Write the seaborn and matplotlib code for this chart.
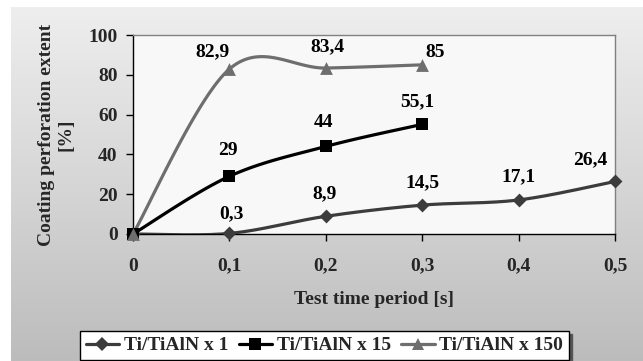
import numpy as np
import pandas as pd
import matplotlib
matplotlib.use("Agg")
import matplotlib.pyplot as plt
from matplotlib.colors import LinearSegmentedColormap
from matplotlib.lines import Line2D
import seaborn as sns

# ---- data -------------------------------------------------------------
time_s = [0, 0.1, 0.2, 0.3, 0.4, 0.5]
perf_x1 = [0, 0.3, 8.9, 14.5, 17.1, 26.4]
perf_x15 = [0, 29, 44, 55.1]
perf_x150 = [0, 82.9, 83.4, 85]
series_names = ["Ti/TiAlN x 1", "Ti/TiAlN x 15", "Ti/TiAlN x 150"]
x_tick_values = [0, 0.1, 0.2, 0.3, 0.4, 0.5]
x_tick_labels = ["0", "0,1", "0,2", "0,3", "0,4", "0,5"]
y_tick_values = [0, 20, 40, 60, 80, 100]

# ---- styling ----------------------------------------------------------
sns.set_theme(style="white")
plt.rcParams["font.family"] = ["Liberation Serif", "DejaVu Serif"]
plt.rcParams["font.weight"] = "bold"
FS = 14

line_colors = ["#3c3c3c", "#000000", "#6e6e6e"]
markers = ["D", "s", "^"]
marker_sizes = [50, 70, 85]
# value-label offsets in pixels (dx, dy) relative to each point
label_offsets = [
    [None, (2, 20), (-1, 23), (0, 22), (0, 23), (-25, 22)],
    [None, (-1, 26), (-2, 24), (-5, 23)],
    [None, (-17, 17), (2, 21), (13, 12)],
]


def smooth_curve(xs, ys, n=40):
    """Piecewise cubic Bezier through the points (Catmull-Rom style tangents)."""
    pts = np.column_stack([xs, ys]).astype(float)
    out = []
    t = np.linspace(0, 1, n)[:, None]
    for i in range(len(pts) - 1):
        p0 = pts[i - 1] if i > 0 else pts[i]
        p1, p2 = pts[i], pts[i + 1]
        p3 = pts[i + 2] if i + 2 < len(pts) else pts[i + 1]
        c1 = p1 + (p2 - p0) / 6
        c2 = p2 - (p3 - p1) / 6
        seg = ((1 - t) ** 3) * p1 + 3 * ((1 - t) ** 2) * t * c1 \
            + 3 * (1 - t) * t ** 2 * c2 + t ** 3 * p2
        out.append(seg if i == 0 else seg[1:])
    return np.vstack(out)


W, H = 643, 361
fig = plt.figure(figsize=(W / 100, H / 100), dpi=100)
fig.patch.set_facecolor("white")

# gradient chart-area background
bg = fig.add_axes([11 / W, 0, (W - 11) / W, (H - 7) / H], zorder=-10)
grad_cmap = LinearSegmentedColormap.from_list("bg", ["#eeeeee", "#d6d6d6", "#bcbcbc"])
bg.imshow(np.linspace(0, 1, 256)[:, None], aspect="auto", cmap=grad_cmap,
          extent=[0, 1, 0, 1])
bg.set_axis_off()

ax = fig.add_axes([133 / W, 1 - 234 / H, (615 - 133) / W, (234 - 35) / H], zorder=1)
ax.set_facecolor("#f8f8f8")

all_series = [perf_x1, perf_x15, perf_x150]
handles = []
for name, ys, color, mk, ms, offs in zip(series_names, all_series, line_colors,
                                         markers, marker_sizes, label_offsets):
    xs = time_s[:len(ys)]
    curve = smooth_curve(xs, ys)
    df_curve = pd.DataFrame({"t": curve[:, 0], "v": curve[:, 1]})
    sns.lineplot(data=df_curve, x="t", y="v", ax=ax, color=color, lw=2.3,
                 sort=False, estimator=None, zorder=3)
    df_pts = pd.DataFrame({"t": xs, "v": ys})
    sns.scatterplot(data=df_pts, x="t", y="v", ax=ax, color=color, marker=mk,
                    s=ms, linewidth=0, zorder=4)
    for coll in ax.collections:
        coll.set_clip_on(False)
    for x, y, off in zip(xs, ys, offs):
        if off is None:
            continue
        ax.annotate(f"{y:g}".replace(".", ","), (x, y), xytext=off,
                    textcoords="offset pixels", ha="center", va="center",
                    fontsize=FS, fontweight="bold", color="black", zorder=5)
    handles.append(Line2D([0], [0], color=color, lw=2.3, marker=mk,
                          markersize=np.sqrt(ms) * 0.95, markeredgewidth=0))

ax.set_xlim(0, 0.5)
ax.set_ylim(0, 100)
ax.set_xticks(x_tick_values)
ax.set_xticklabels(x_tick_labels)
ax.set_yticks(y_tick_values)
ax.tick_params(axis="both", labelsize=FS, length=5, width=1, color="black",
               direction="out", bottom=True, left=True)
ax.tick_params(axis="x", pad=12)
ax.tick_params(axis="y", pad=6)
for lbl in ax.get_xticklabels() + ax.get_yticklabels():
    lbl.set_fontweight("bold")
for side in ["left", "bottom"]:
    ax.spines[side].set_color("black")
    ax.spines[side].set_linewidth(1)
for side in ["top", "right"]:
    ax.spines[side].set_color("#808080")
    ax.spines[side].set_linewidth(1)

ax.set_xlabel("Test time period [s]", fontsize=FS, fontweight="bold", labelpad=12)
ax.set_ylabel("Coating perforation extent\n[%]", fontsize=FS, fontweight="bold",
              labelpad=10, linespacing=1.2)

leg = fig.legend(handles=handles, labels=series_names, loc="upper center",
                 bbox_to_anchor=(324.5 / W, 1 - 331 / H), ncol=3, frameon=True,
                 fancybox=False, edgecolor="black", facecolor="white", framealpha=1,
                 fontsize=FS, handlelength=1.7, handletextpad=0.25,
                 columnspacing=0.55, borderpad=0.3, borderaxespad=0,
                 shadow={"color": "#555555", "alpha": 1})
leg.get_frame().set_linewidth(1)
for txt in leg.get_texts():
    txt.set_fontweight("bold")

fig.savefig("out.png", dpi=100)
